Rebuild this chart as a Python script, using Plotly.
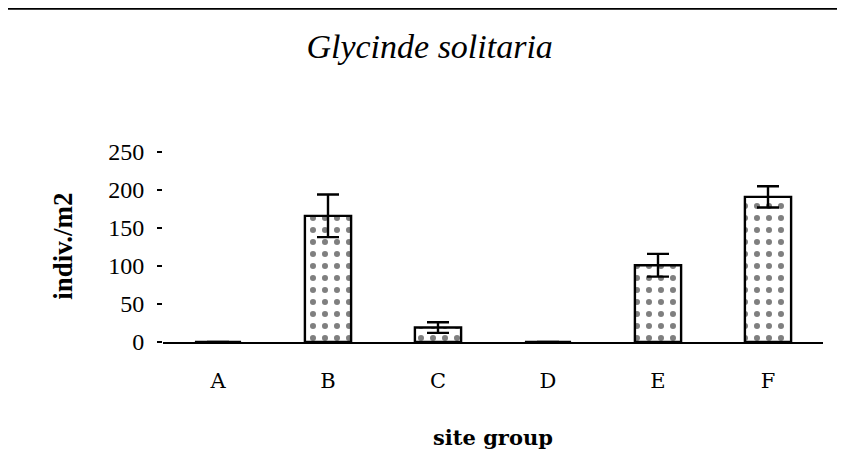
#!/usr/bin/env python3
"""Glycinde solitaria density by site group, as a Plotly bar chart."""
import plotly.graph_objects as go

site_groups = ["A", "B", "C", "D", "E", "F"]
density = [0, 166, 19, 0, 101, 191]
density_err = [0, 28, 7, 0, 15, 14]
y_ticks = [0, 50, 100, 150, 200, 250]

SERIF = "Liberation Serif, Times New Roman, serif"
SLAB = "DejaVu Serif, serif"

fig = go.Figure()
fig.add_trace(
    go.Bar(
        x=site_groups,
        y=density,
        width=0.42,
        marker=dict(
            color="white",
            line=dict(color="black", width=2.4),
            pattern=dict(shape=".", fgcolor="black", bgcolor="white", size=12, solidity=0.2),
        ),
        error_y=dict(type="data", array=density_err, color="black", thickness=2.4, width=11),
        showlegend=False,
    )
)

fig.update_layout(
    width=845,
    height=454,
    # the page body adds 8px on the top and left, margins allow for it
    margin=dict(l=155, r=30, t=144, b=120),
    paper_bgcolor="white",
    plot_bgcolor="white",
    title=dict(
        text="Glycinde solitaria",
        x=0.499,
        xanchor="center",
        y=0.915,
        yanchor="middle",
        font=dict(family=SERIF, size=34, color="black", style="italic"),
    ),
    xaxis=dict(
        showline=True,
        linecolor="black",
        linewidth=1.6,
        ticks="",
        showgrid=False,
        ticklabelstandoff=19,
        tickfont=dict(family=SLAB, size=21, color="black"),
    ),
    yaxis=dict(
        range=[0, 250],
        tickvals=y_ticks,
        showline=False,
        showgrid=False,
        zeroline=False,
        ticks="outside",
        ticklen=5,
        tickwidth=1.5,
        tickcolor="black",
        ticklabelstandoff=8,
        tickfont=dict(family=SERIF, size=24, color="black"),
    ),
    annotations=[
        dict(
            text="site group",
            xref="paper",
            yref="paper",
            x=0.5,
            y=-0.5,
            xanchor="center",
            yanchor="middle",
            showarrow=False,
            font=dict(family=SLAB, size=21, color="black", weight="bold"),
        ),
        dict(
            text="indiv./m2",
            xref="paper",
            yref="paper",
            x=-0.152,
            y=0.505,
            xanchor="center",
            yanchor="middle",
            textangle=-90,
            showarrow=False,
            font=dict(family=SERIF, size=27, color="black", weight="bold"),
        ),
    ],
    shapes=[
        dict(
            type="line",
            xref="paper",
            yref="paper",
            x0=-0.25,
            x1=1.05,
            y0=1.755,
            y1=1.755,
            line=dict(color="black", width=2.5),
        )
    ],
)

fig.write_html("out.html")
